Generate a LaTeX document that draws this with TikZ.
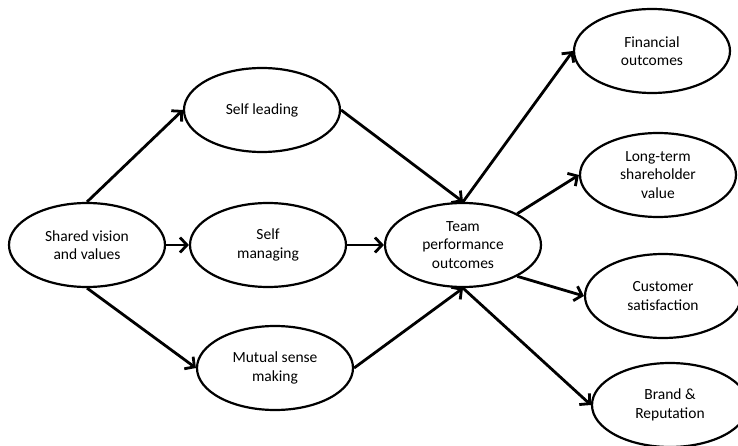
\documentclass[tikz,border=0pt]{standalone}
\usepackage{fontspec}
\setmainfont{Carlito}
\usetikzlibrary{arrows.meta,shapes.geometric}

\tikzset{
  oval/.style={ellipse, draw, line width=2.2pt, minimum width=156pt, minimum height=84pt,
    inner sep=0pt, align=center, font=\fontsize{15.5}{18.5}\selectfont},
  link/.style={line width=2.8pt, -{Straight Barb[length=7pt,width=15pt,line width=2.8pt]}}
}

\begin{document}
\begin{tikzpicture}[x=1pt,y=-1pt]
  \useasboundingbox (0,0) rectangle (738,446);

      % Draw the nodes
  \node[oval] (vision) at (87,245) {Shared vision\\and values};
  \node[oval] (leading) at (262,110) {Self leading};
  \node[oval] (managing) at (268,245) {Self\\managing};
  \node[oval] (sense) at (275,368) {Mutual sense\\making};
  \node[oval] (team) at (463,245) {Team\\performance\\outcomes};
  \node[oval] (financial) at (652,51) {Financial\\outcomes};
  \node[oval] (shareholder) at (658,175) {Long-term\\shareholder\\value};
  \node[oval] (customer) at (663,296) {Customer\\satisfaction};
  \node[oval] (brand) at (670,405) {Brand \&\\Reputation};

      % Draw the edges into the team outcomes
  \draw[link] (vision.north) -- (leading.west);
  \draw[link] (vision.east) -- (managing.west);
  \draw[link] (vision.south) -- (sense.west);
  \draw[link] (leading.east) -- (team.north);
  \draw[link] (managing.east) -- (team.west);
  \draw[link] (sense.east) -- (team.south);

      % Draw the edges out to the results
  \draw[link] (team.north) -- (financial.west);
  \draw[link] (team.30) -- (shareholder.west);
  \draw[link] (team.-30) -- (customer.west);
  \draw[link] (team.south) -- (brand.west);
\end{tikzpicture}
\end{document}
